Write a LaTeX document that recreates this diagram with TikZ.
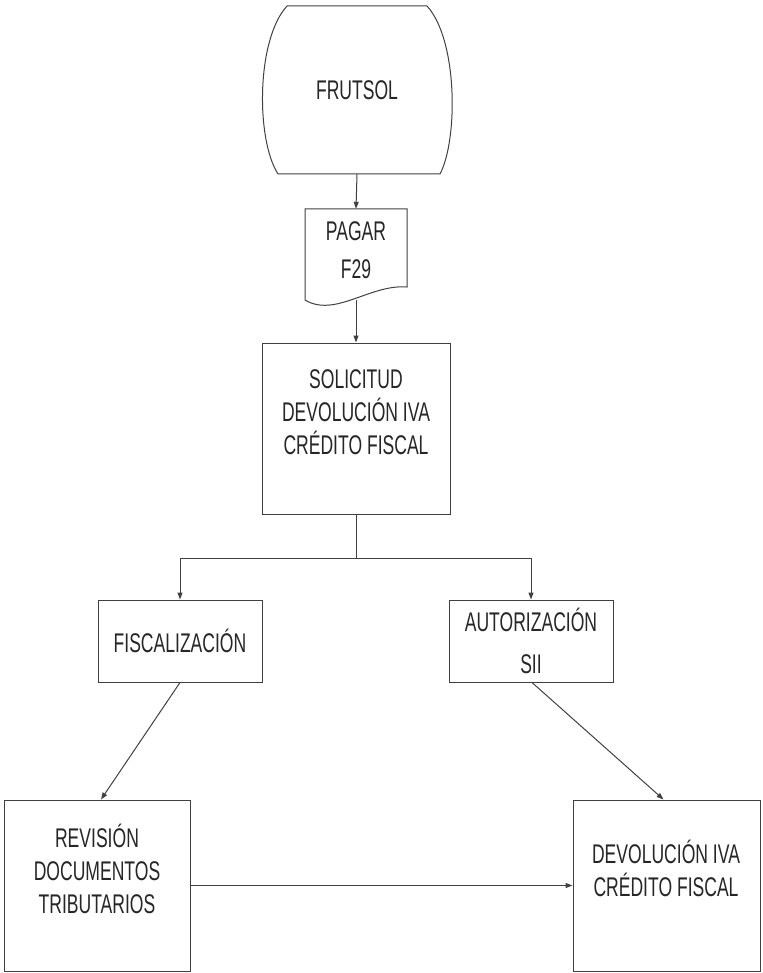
\documentclass[tikz,border=0pt]{standalone}
\usepackage{fontspec}
\setmainfont{Liberation Sans}[FakeStretch=0.65]
\usepackage{tikz}
\usetikzlibrary{arrows.meta,positioning}

\tikzset{
  conn/.style={draw=black!75, line width=1pt},
  arr/.style={conn, -{Triangle[length=7pt,width=5pt]}},
  box/.style={conn, inner sep=0pt},
  txt/.style={font=\fontsize{27}{33}\selectfont, text=black!85, align=center, inner sep=0pt}
}

\begin{document}
\begin{tikzpicture}[x=1pt, y=-1pt]
        \useasboundingbox (0,0) rectangle (762,973);
        % start
        \node[txt, minimum width=190pt, minimum height=168pt] (frutsol) at (357,90) {FRUTSOL};
        \draw[conn] (287,6) -- (427,6) .. controls (458,40) and (458,140) .. (440,174)
              -- (278,174) .. controls (256,140) and (256,40) .. (287,6) -- cycle;
        % document
        \node[txt, minimum width=102pt, minimum height=82pt] (pagar) at (356,250) {PAGAR\\[5pt]F29};
        \draw[conn] (305,300) -- (305,209) -- (407,209) -- (407,287)
              .. controls (370,284) and (335,318) .. (305,300);
        \coordinate (pagarend) at (356,300);
        % boxes
        \node[box, minimum width=188pt, minimum height=171pt] (solicitud) at (356,428.5) {};
        \node[txt] (solicitudtxt) at (356,412) {SOLICITUD\\DEVOLUCIÓN IVA\\CRÉDITO FISCAL};
        \node[box, txt, draw, minimum width=164pt, minimum height=82pt] (fisc) at (180,641) {FISCALIZACIÓN};
        \node[box, txt, draw, minimum width=164pt, minimum height=82pt] (autoriz) at (531,641) {AUTORIZACIÓN\\[9pt]SII};
        \node[box, minimum width=186pt, minimum height=171pt] (revision) at (97,885.5) {};
        \node[txt] (revisiontxt) at (97,869) {REVISIÓN\\DOCUMENTOS\\TRIBUTARIOS};
        \node[box, minimum width=187pt, minimum height=171pt] (devol) at (666.5,885.5) {};
        \node[txt] (devoltxt) at (666,868.5) {DEVOLUCIÓN IVA\\CRÉDITO FISCAL};
        % connectors
        \coordinate (split) at (356,558);
        \draw[arr] (frutsol.south) -- (pagar.north);
        \draw[arr] (pagarend) -- (solicitud.north);
        \draw[conn] (solicitud.south) -- (split);
        \draw[arr] (split) -| (fisc.north);
        \draw[arr] (split) -| (autoriz.north);
        \draw[arr] (fisc.south) -- ([xshift=4pt]revision.north);
        \draw[arr] ([xshift=1pt]autoriz.south) -- ([xshift=-3pt]devol.north);
        \draw[arr] (revision.east) -- (devol.west);
    \end{tikzpicture}
\end{document}
